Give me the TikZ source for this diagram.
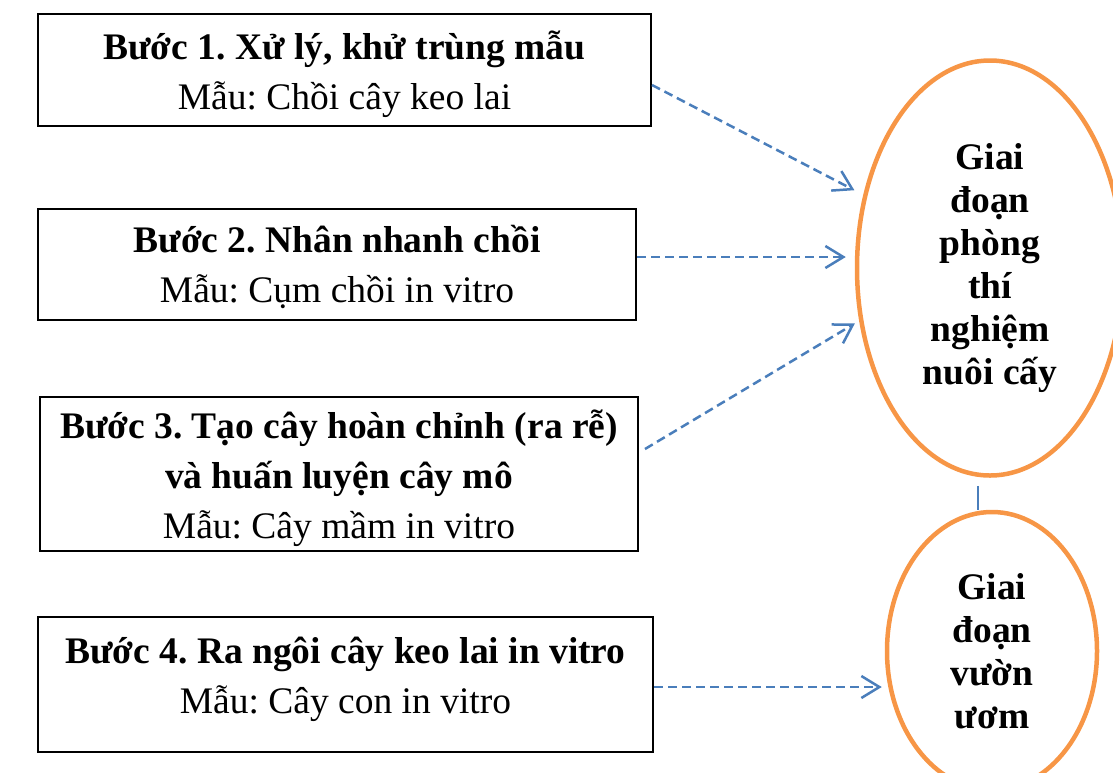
\documentclass[tikz,border=0pt]{standalone}
\usepackage{fontspec}
\setmainfont{Liberation Serif}
\usetikzlibrary{shapes.geometric,arrows.meta}

\definecolor{phaseorange}{HTML}{F79646}
\definecolor{linkblue}{HTML}{4A7EBB}

\tikzstyle{stepbox} = [draw=black, line width=2pt, align=center, inner sep=0pt,
  font=\fontsize{37.5}{50}\selectfont\frenchspacing]
\tikzstyle{phase} = [ellipse, draw=phaseorange, line width=4.5pt, align=center, inner sep=0pt,
  font=\fontsize{37.5}{43}\selectfont\bfseries]
\tikzstyle{link} = [linkblue, line width=2.5pt, dash pattern=on 9pt off 5pt,
  -{Straight Barb[length=18pt,width=22pt,line width=2.5pt]}]

\begin{document}
\begin{tikzpicture}[x=1pt, y=-1pt]
\useasboundingbox (0,0) rectangle (1113,772);

\node[stepbox, minimum width=613pt, minimum height=112pt, text depth=0pt] (b1) at (344.5,70)
  {\textbf{Bước 1. Xử lý, khử trùng mẫu}\\Mẫu: Chồi cây keo lai};
\node[stepbox, minimum width=598pt, minimum height=111pt, text depth=0pt] (b2) at (337,264)
  {\textbf{Bước 2. Nhân nhanh chồi}\\Mẫu: Cụm chồi in vitro};
\node[stepbox, minimum width=598pt, minimum height=154pt, text depth=0pt] (b3) at (339,474)
  {\textbf{Bước 3. Tạo cây hoàn chỉnh (ra rễ)}\\\textbf{và huấn luyện cây mô}\\Mẫu: Cây mầm in vitro};
\node[stepbox, minimum width=615pt, minimum height=135pt, text depth=18pt] (b4) at (345.5,684.5)
  {\textbf{Bước 4. Ra ngôi cây keo lai in vitro}\\Mẫu: Cây con in vitro};

\node[phase, minimum width=266pt, minimum height=415pt] (lab) at (990,268)
  {Giai\\đoạn\\phòng\\thí\\nghiệm\\nuôi cấy};
\node[phase, minimum width=210pt, minimum height=278pt] (nursery) at (992,651)
  {Giai\\đoạn\\vườn\\ươm};

% arrows
\draw[link, shorten >=10pt] ([yshift=-15pt]b1.east) -- (lab.150);
\draw[link, shorten >=9pt] ([yshift=7pt]b2.east) -- ([yshift=7pt]b2.east -| lab.west);
\draw[link, shorten >=5pt] ([xshift=6pt, yshift=25pt]b3.east) -- (lab.202);
\draw[link, shorten >=3pt] ([yshift=-2.5pt]b4.east) -- ([yshift=-2.5pt]b4.east -| nursery.west);
\draw[linkblue, line width=2.5pt] ([xshift=-12pt, yshift=-8pt]lab.south) -- ([xshift=-14pt]nursery.north);
\end{tikzpicture}
\end{document}
